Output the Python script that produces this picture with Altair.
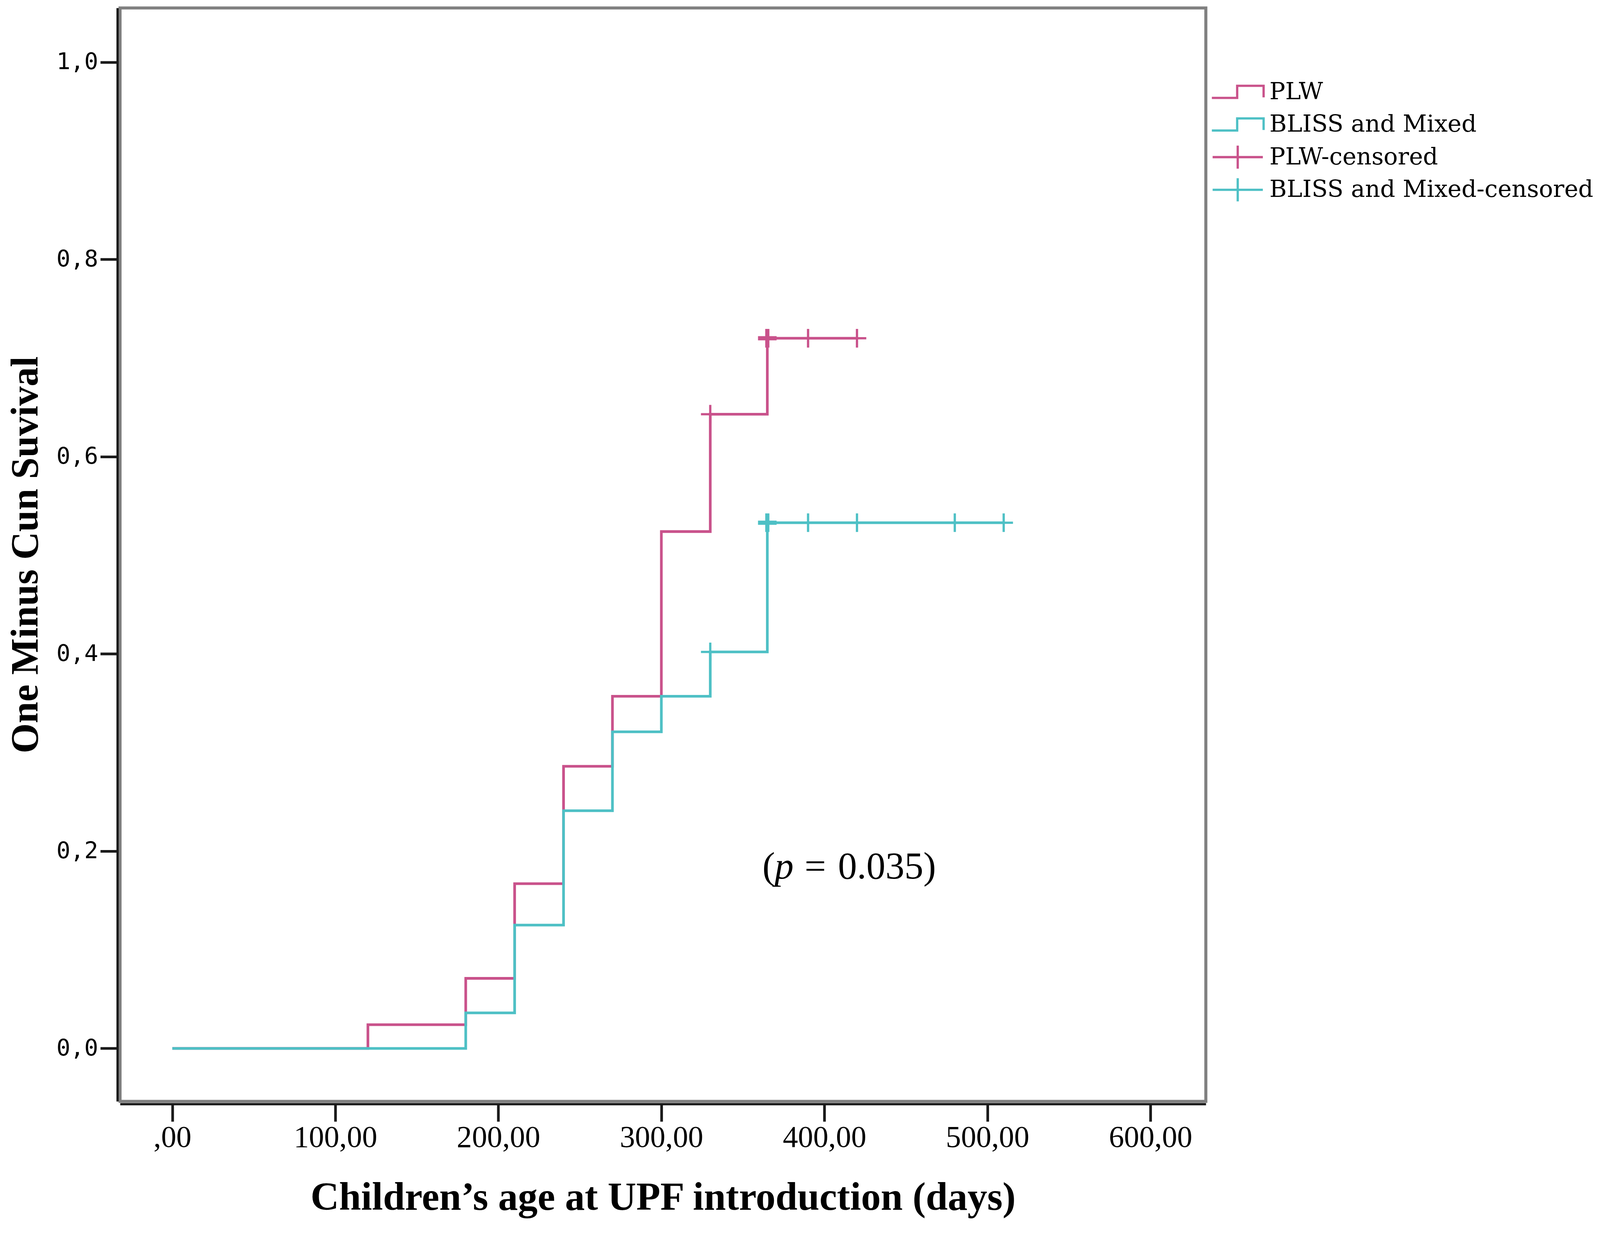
import altair as alt
import pandas as pd

# ---------------- data ----------------
plw_time = [0, 120, 180, 210, 240, 270, 300, 330, 365, 420]
plw_value = [0.0, 0.024, 0.071, 0.167, 0.286, 0.357, 0.524, 0.643, 0.720, 0.720]

bliss_time = [0, 180, 210, 240, 270, 300, 330, 365, 510]
bliss_value = [0.0, 0.036, 0.125, 0.241, 0.321, 0.357, 0.402, 0.533, 0.533]

plw_cens_time = [330, 365, 390, 420]
plw_cens_value = [0.643, 0.720, 0.720, 0.720]
plw_cens_n = [1, 2, 1, 1]

bliss_cens_time = [330, 365, 390, 420, 480, 510]
bliss_cens_value = [0.402, 0.533, 0.533, 0.533, 0.533, 0.533]
bliss_cens_n = [1, 2, 1, 1, 1, 1]

series_labels = ["PLW", "BLISS and Mixed", "PLW-censored", "BLISS and Mixed-censored"]
series_colors = ["#C9528B", "#4EC0C5", "#C9528B", "#4EC0C5"]

x_ticks = [0, 100, 200, 300, 400, 500, 600]
y_ticks = [0.0, 0.2, 0.4, 0.6, 0.8, 1.0]

p_time = [362.0]
p_value = [0.1723]

# ---------------- tables ----------------
plw_df = pd.DataFrame({"time": plw_time, "value": plw_value, "series": "PLW"})
bliss_df = pd.DataFrame({"time": bliss_time, "value": bliss_value, "series": "BLISS and Mixed"})
cens_df = pd.concat([
    pd.DataFrame({"time": plw_cens_time, "value": plw_cens_value, "n": plw_cens_n,
                  "series": "PLW-censored"}),
    pd.DataFrame({"time": bliss_cens_time, "value": bliss_cens_value, "n": bliss_cens_n,
                  "series": "BLISS and Mixed-censored"}),
], ignore_index=True)
ann_df = pd.DataFrame({"time": p_time, "value": p_value})

# legend glyphs (equal vertical extent so that legend rows are evenly spaced)
STEP_PATH = "M0,-1.05M0,1.05M-2.35,0.55H-0.05V-0.55H2.35V0.5"
LEG_CROSS = "M-2.28,0H2.28M0,-1.05V1.05"
PLOT_CROSS = "M-1,0H1M0,-1V1"

x_enc = alt.X(
    "time:Q",
    scale=alt.Scale(domain=[-32.04, 634.0], nice=False, zero=False),
    axis=alt.Axis(
        values=x_ticks,
        labelExpr="datum.value == 0 ? ',00' : replace(format(datum.value, '.2f'), '.', ',')",
        title="Children\u2019s age at UPF introduction (days)",
        tickSize=46, labelPadding=4, labelLimit=0,
        labelFont="Liberation Serif", labelFontSize=80,
        titleFont="Liberation Serif", titleFontSize=104, titleFontWeight="bold",
        titleBaseline="alphabetic", titleY=278,
        labelFlush=False, labelOverlap=False,
    ),
)
y_enc = alt.Y(
    "value:Q",
    scale=alt.Scale(domain=[-0.0537, 1.0549], nice=False, zero=False),
    axis=alt.Axis(
        values=y_ticks,
        labelExpr="replace(format(datum.value, '.1f'), '.', ',')",
        title="One Minus Cun Suvival",
        tickSize=45, labelPadding=6, labelLimit=0,
        labelFont="DejaVu Sans Mono", labelFontSize=61,
        titleFont="Liberation Serif", titleFontSize=102, titleFontWeight="bold",
        titleBaseline="alphabetic", titleX=-211, titleY=1440, titleAlign="center",
        labelFlush=False, labelOverlap=False,
    ),
)
color_enc = alt.Color(
    "series:N",
    scale=alt.Scale(domain=series_labels, range=series_colors),
    title=None,
)

line_plw = alt.Chart(plw_df).mark_line(interpolate="step-after", strokeWidth=7).encode(
    x=x_enc, y=y_enc, color=color_enc)
line_bliss = alt.Chart(bliss_df).mark_line(interpolate="step-after", strokeWidth=7).encode(
    x=x_enc, y=y_enc, color=color_enc)

cens = alt.Chart(cens_df).mark_point(shape=PLOT_CROSS, filled=False, size=2401, opacity=1).encode(
    x=x_enc, y=y_enc, color=color_enc,
    strokeWidth=alt.StrokeWidth("n:Q", scale=alt.Scale(domain=[1, 2], range=[6, 11]), legend=None),
)

legend_layer = alt.Chart(alt.Data(values=[])).mark_point(filled=False, opacity=1).encode(
    color=color_enc,
    shape=alt.Shape(
        "series:N",
        scale=alt.Scale(domain=series_labels, range=[STEP_PATH, STEP_PATH, LEG_CROSS, LEG_CROSS]),
        title=None,
    ),
)

txt_font = dict(font="Liberation Serif", fontSize=100, color="black", align="left", baseline="alphabetic")
t1 = alt.Chart(ann_df).mark_text(text="(", dx=0, **txt_font).encode(x=x_enc, y=y_enc)
t2 = alt.Chart(ann_df).mark_text(text="p", dx=32, fontStyle="italic", **txt_font).encode(x=x_enc, y=y_enc)
t3 = alt.Chart(ann_df).mark_text(text="=", dx=111, **txt_font).encode(x=x_enc, y=y_enc)
t4 = alt.Chart(ann_df).mark_text(text="0.035)", dx=199, **txt_font).encode(x=x_enc, y=y_enc)

chart = alt.layer(line_plw, line_bliss, cens, legend_layer, t1, t2, t3, t4).properties(
    width=2860,
    height=2880,
    padding={"left": 308, "top": -33, "right": 1030, "bottom": 312},
    autosize=alt.AutoSizeParams(type="none"),
    background="white",
).configure_view(
    stroke="#808080", strokeWidth=8,
).configure_axis(
    grid=False, domainColor="#1a1a1a", domainWidth=6,
    tickColor="#1a1a1a", tickWidth=7, offset=7,
    labelColor="black", titleColor="black",
).configure_legend(
    orient="none", legendX=2912, legendY=189,
    padding=0, rowPadding=0, gridAlign="all",
    symbolSize=3364, symbolStrokeWidth=6, symbolFillColor="transparent",
    labelOffset=51.5, labelFont="DejaVu Serif", labelFontSize=62,
    labelColor="black", labelLimit=0,
)

chart.save("out.html", embed_options={"renderer": "svg", "actions": False})
